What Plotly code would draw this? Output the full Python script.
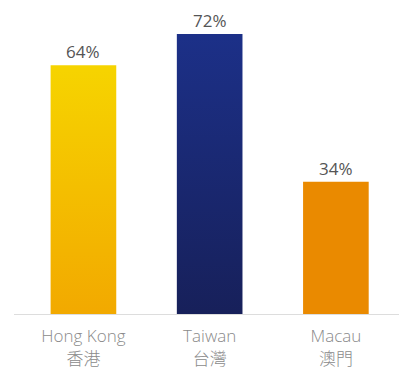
import plotly.graph_objects as go

# Share of respondents by region
regions = ["Hong Kong", "Taiwan", "Macau"]
regions_zh = ["香港", "台灣", "澳門"]
values = [64, 72, 34]
value_labels = ["64%", "72%", "34%"]

# (bottom colour, top colour) of each bar's vertical gradient
bar_colors = [("#F2A900", "#F6D400"), ("#17205A", "#1C3088"), ("#EA8A00", "#EA8A00")]

BAR_HALF = 0.26

fig = go.Figure()
for i, (v, (c_bot, c_top)) in enumerate(zip(values, bar_colors)):
    x0, x1 = i - BAR_HALF, i + BAR_HALF
    fig.add_trace(go.Scatter(
        x=[x0, x1, x1, x0, x0],
        y=[0, 0, v, v, 0],
        mode="lines",
        line=dict(width=0),
        fill="toself",
        fillgradient=dict(type="vertical", start=0, stop=v,
                          colorscale=[[0, c_bot], [1, c_top]]),
        hoverinfo="skip",
        showlegend=False,
    ))
    fig.add_annotation(
        x=i, y=v, text=value_labels[i], showarrow=False,
        yanchor="bottom", yshift=0,
        font=dict(family="Open Sans", size=17, color="#555555"),
    )

fig.update_layout(
    width=399, height=381,
    margin=dict(l=14, r=0, t=3, b=67),
    paper_bgcolor="white", plot_bgcolor="white",
    showlegend=False,
    xaxis=dict(
        range=[-0.55, 2.5],
        tickmode="array",
        tickvals=list(range(len(regions))),
        ticktext=[f"{en}<br>{zh}" for en, zh in zip(regions, regions_zh)],
        tickfont=dict(family="Open Sans, Noto Sans CJK TC", size=17, color="#8a8a8a", weight=300),
        ticklabelstandoff=7,
        showline=True, linecolor="#dddddd", linewidth=1,
        showgrid=False, zeroline=False, ticks="",
        fixedrange=True,
    ),
    yaxis=dict(
        range=[0, 80],
        visible=False,
        fixedrange=True,
    ),
)

fig.write_html("out.html")
